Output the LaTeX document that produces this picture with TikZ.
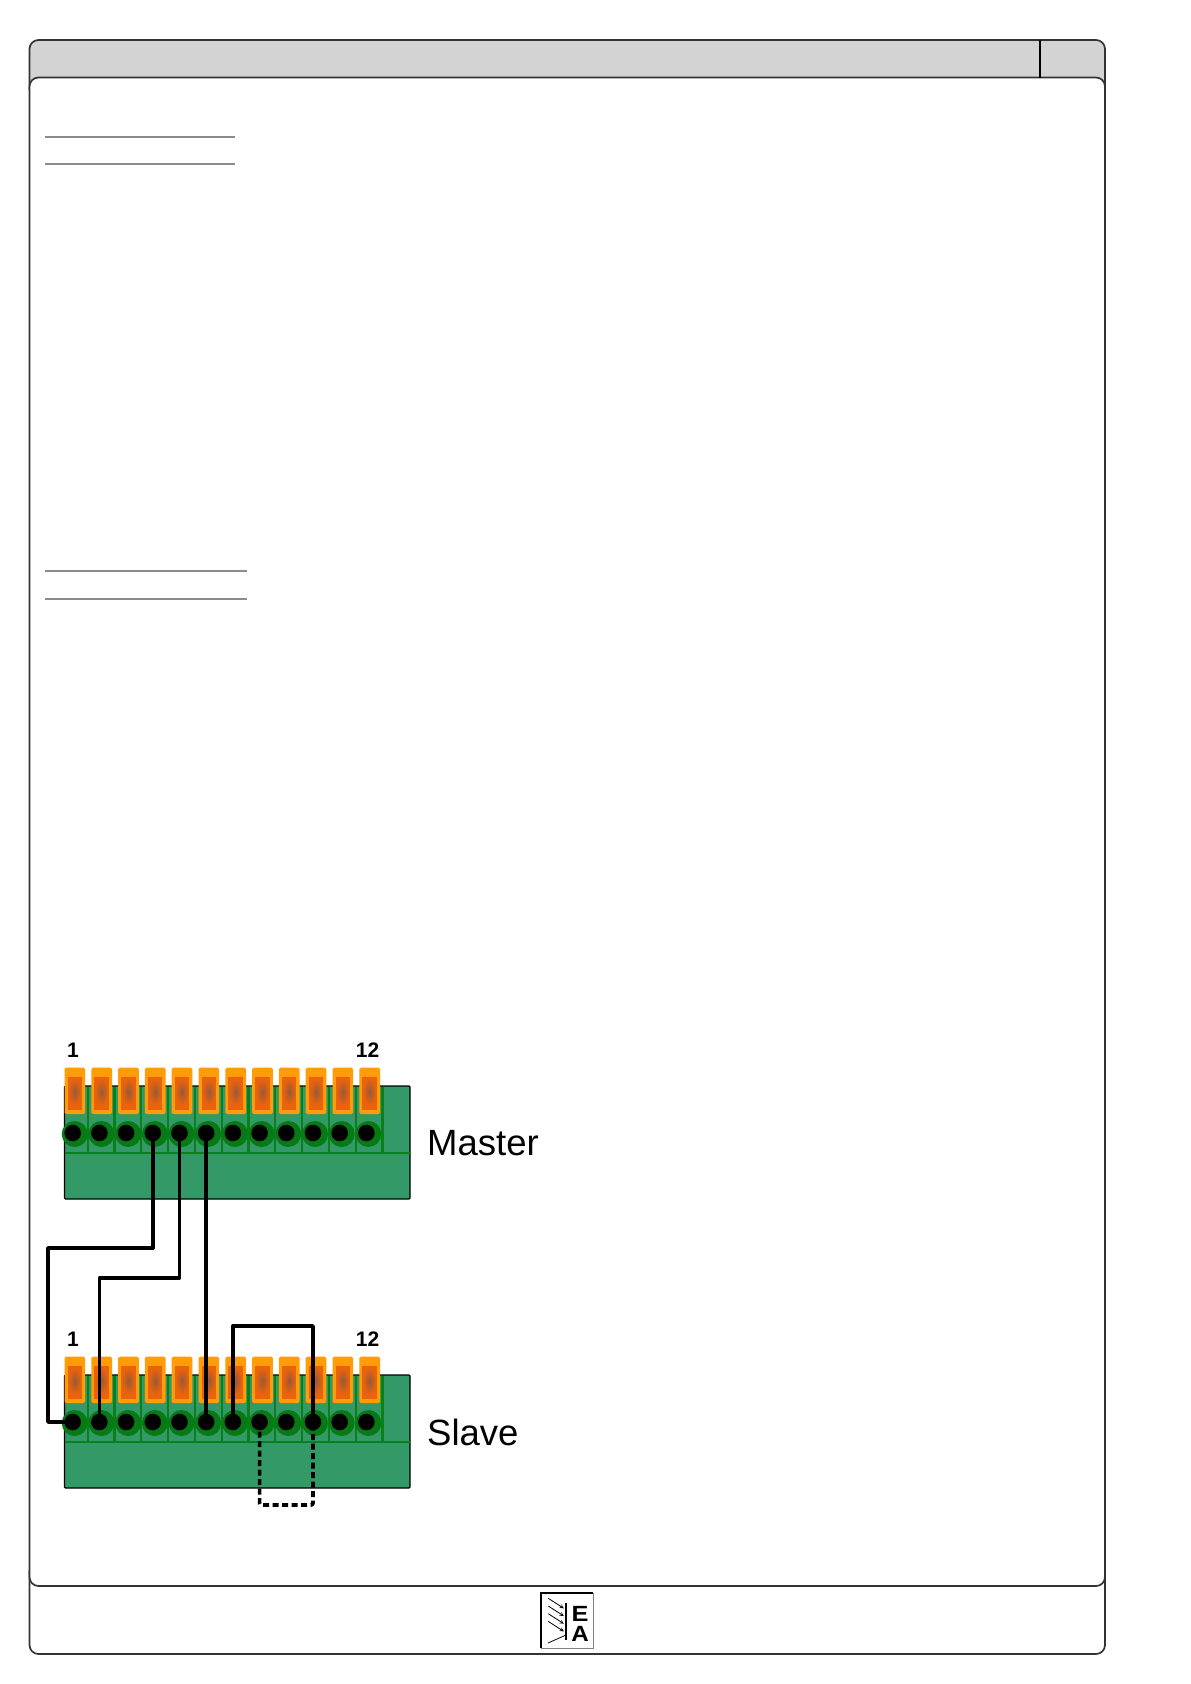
\documentclass[tikz,border=0pt]{standalone}
\usepackage{fontspec}
\setmainfont{Liberation Sans}
\usepackage{tikz}
\definecolor{framegray}{HTML}{333333}
\definecolor{bandgray}{HTML}{D3D3D3}
\definecolor{rulegray}{HTML}{8C8C8C}
\definecolor{blockgreen}{HTML}{339966}
\definecolor{linegreen}{HTML}{0A8018}
\definecolor{ringgreen}{HTML}{067A14}
\definecolor{clamporange}{HTML}{FF9C08}
\definecolor{innerorange}{HTML}{EA620C}
\definecolor{coreorange}{HTML}{985A38}
\tikzset{
	frame/.style={draw=framegray,line width=1.7pt,rounded corners=9pt},
	rulegrey/.style={draw=rulegray,line width=1.8pt},
	hole/.style={circle,fill=black,minimum size=16.6pt,inner sep=0pt,outer sep=0pt},
	wire/.style={draw=black,line width=3.7pt,line join=round},
	termlabel/.style={font=\bfseries\fontsize{21}{21}\selectfont,inner sep=0pt},
	unitlabel/.style={font=\fontsize{36.5}{36.5}\selectfont,anchor=west,inner sep=0pt},
	logotext/.style={font=\bfseries\fontsize{22}{22}\selectfont,inner sep=0pt}
}
\begin{document}
\begin{tikzpicture}[x=1pt,y=-1pt]
	\useasboundingbox (0,0) rectangle (1191,1684);

	\fill[bandgray,rounded corners=9pt] (29.5,40) rectangle (1105,90);
	\draw[frame] (29.5,1570) -- (29.5,1654) -- (1105,1654) -- (1105,1570);
	\draw[frame] (29.5,90) -- (29.5,40) -- (1105,40) -- (1105,90);
	\draw[frame,fill=white] (29.5,77.5) rectangle (1105,1586);
	\draw[black,line width=1.7pt] (1040,40) -- (1040,77.5);

	\draw[rulegrey] (45,137) -- (235,137);
	\draw[rulegrey] (45,164) -- (235,164);
	\draw[rulegrey] (45,571) -- (247,571);
	\draw[rulegrey] (45,599) -- (247,599);

	\foreach \name/\dy/\lbl in {M/0/Master,S/289/Slave}{
		\begin{scope}[yshift=-\dy pt]
			\draw[fill=blockgreen,draw=black,line width=1.3pt,rounded corners=1pt] (64.5,1086) rectangle (410,1199);
			\foreach \i in {0,...,11}
				\draw[linegreen,line width=2.2pt] ({87.7+26.8*\i},1087) -- ({87.7+26.8*\i},1153);
			\draw[linegreen,line width=2.2pt] (64.5,1153) -- (410,1153);
			\foreach \i in {1,...,12}{
				\fill[clamporange,rounded corners=1.5pt] ({64.5+26.8*(\i-1)},1067.7) rectangle ++(20.7,46.3);
				\fill[innerorange] ({67.5+26.8*(\i-1)},1077) rectangle ++(14.5,33);
				\shade[inner color=coreorange,outer color=innerorange] ({74.8+26.8*(\i-1)},1092) ellipse (6.5 and 13);
				\fill[ringgreen] ({74.7+26.7*(\i-1)},1134) circle (13);
				\node[hole] (\name\i) at ({72.7+26.7*(\i-1)},1133) {};
			}
			\node[termlabel] (\name label1) at (73,1050) {1};
			\node[termlabel] (\name label12) at (367.5,1050) {12};
			\node[unitlabel] (\name unit) at (427,1143) {\lbl};
		\end{scope}
	}

	\coordinate (bendA) at (48,1248);
	\coordinate (bendB) at (S2 |- 0,1278);
	\coordinate (bendC) at (S10 |- 0,1326);
	\coordinate (bendD) at (S10 |- 0,1505);

	\draw[wire] (M4.center) |- (bendA) |- (S1.center);
	\draw[wire] (M5.center) |- (bendB) -- (S2.center);
	\draw[wire] (M6.center) -- (S6.center);
	\draw[wire] (S7.center) |- (bendC) -- (S10.center);
	\draw[wire,dashed,dash pattern=on 6pt off 3.5pt,rounded corners=2pt] (S8.center) |- (bendD) -- (S10.center);

	\draw[gray,line width=1pt] (593,1593) -- (593,1648) -- (541,1648);
	\draw[black,line width=1.4pt] (541,1648) -- (541,1593) -- (593,1593);
	\foreach \k in {0,1,2,3}
		\draw[black,line width=.8pt,-stealth] (548.3,{1598.3+7.7*\k}) -- ++(15.5,10);
	\draw[black,line width=1.5pt] (566,1603) -- (566,1640);
	\draw[black,line width=.8pt] (548,1643) -- (566,1635);
	\node[logotext] (logoE) at (580,1614) {\scalebox{1.15}[1]{E}};
	\node[logotext] (logoA) at (580,1634) {\scalebox{1.1}[1]{A}};
\end{tikzpicture}
\end{document}
